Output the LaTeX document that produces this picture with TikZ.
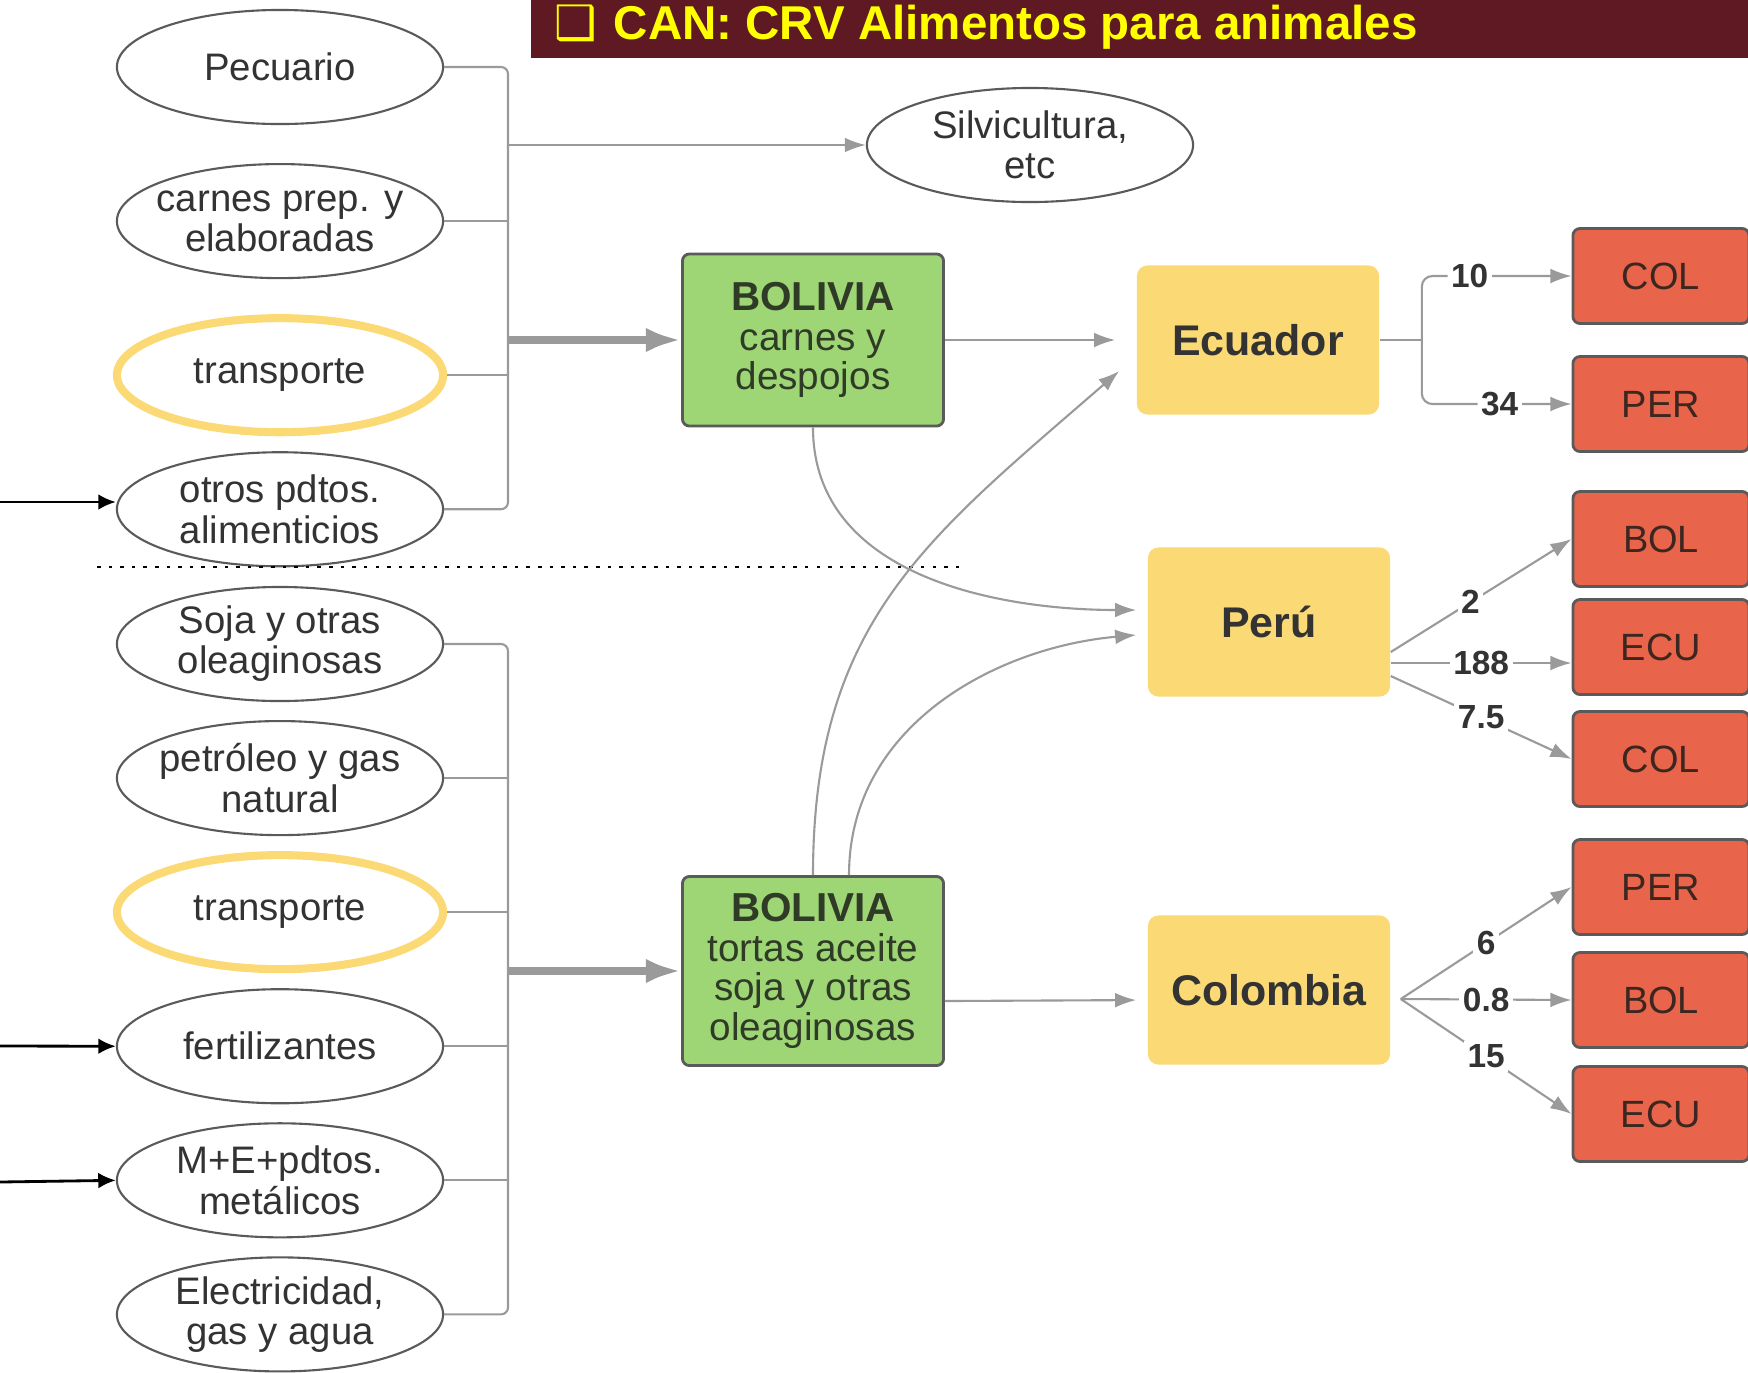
\documentclass[tikz,border=0pt]{standalone}
\usepackage{fontspec}
\setmainfont{Liberation Sans}
\newfontfamily\symbfont{DejaVu Sans}
\usetikzlibrary{arrows.meta,shapes.geometric}

\definecolor{txtgray}{HTML}{333333}
\definecolor{linegray}{HTML}{9A9A9A}
\definecolor{rimgray}{HTML}{5A5A5A}
\definecolor{leafgreen}{HTML}{9ED676}
\definecolor{leafdark}{HTML}{2F3B26}
\definecolor{sandyellow}{HTML}{FBD975}
\definecolor{brickred}{HTML}{E8644A}
\definecolor{brickdark}{HTML}{3B2620}
\definecolor{wine}{HTML}{5F1922}
\definecolor{titleyellow}{HTML}{FFFF00}

\tikzset{>={Latex[length=6pt,width=4.2pt]},node distance=1.34cm,
  sector/.style={ellipse,draw=rimgray,line width=0.6pt,minimum width=3.26cm,minimum height=1.14cm,
    inner xsep=-0.4cm,inner ysep=0pt,align=center,text=txtgray,font=\fontsize{10.9}{11.4}\selectfont},
  hilite/.style={sector,draw=sandyellow,line width=2.3pt},
  bolbox/.style={rectangle,rounded corners=2pt,draw=rimgray,line width=0.8pt,fill=leafgreen,
    minimum width=2.61cm,align=center,text=leafdark,font=\fontsize{11}{11.3}\selectfont},
  country/.style={rectangle,rounded corners=3pt,fill=sandyellow,minimum width=2.42cm,
    minimum height=1.49cm,text=txtgray,font=\bfseries\fontsize{12.2}{14}\selectfont},
  dest/.style={rectangle,rounded corners=2pt,draw=rimgray,line width=0.8pt,fill=brickred,
    minimum width=1.76cm,minimum height=0.95cm,text=brickdark,font=\fontsize{10.8}{12}\selectfont},
  flow/.style={->,color=linegray,line width=0.6pt},
  feed/.style={-{Latex[length=10pt,width=7pt]},color=linegray,line width=2.3pt},
  feedin/.style={-{Latex[length=5pt,width=4.5pt]},color=black,line width=0.8pt},
  bus/.style={draw=linegray,line width=0.6pt,rounded corners=2pt},
  lbl/.style={fill=white,inner sep=1pt,text=txtgray,font=\bfseries\fontsize{9.5}{11}\selectfont}}

\begin{document}
\begin{tikzpicture}[x=0.01cm,y=0.01cm]
              \useasboundingbox (0,0) rectangle (1748,-1372);

              % title
              \fill[wine] (531,0) rectangle (1748,-58);
              \node[anchor=base west,inner sep=0pt,text=titleyellow,font=\bfseries\fontsize{13.5}{16}\selectfont]
                (title) at (554,-39) {{\symbfont ❑}\hspace{0.35em}CAN: CRV Alimentos para animales};

              % sectors
              \node[sector] (pec) at (280,-67) {Pecuario};
              \node[sector] (carn) [node distance=1.54cm,below of=pec] {carnes prep. y\\elaboradas};
              \node[hilite] (trA) [node distance=1.54cm,below of=carn] {transporte};
              \node[sector] (otros) [below of=trA] {otros pdtos.\\alimenticios};

              \node[sector] (soja) at (280,-644) {Soja y otras\\oleaginosas};
              \node[sector] (petro) [below of=soja] {petróleo y gas\\natural};
              \node[hilite] (trB) [below of=petro] {transporte};
              \node[sector] (fert) [below of=trB] {fertilizantes};
              \node[sector] (mep) [below of=fert] {M+E+pdtos.\\metálicos};
              \node[sector] (elec) [below of=mep] {Electricidad,\\gas y agua};

              \node[sector] (silv) at (1030,-145) {Silvicultura,\\etc};

              % bolivia
              \node[bolbox,minimum height=1.72cm] (bolA) at (813,-340)
                {{\bfseries\fontsize{11.5}{11.6}\selectfont BOLIVIA}\\carnes y\\despojos};
              \node[bolbox,minimum height=1.89cm] (bolB) at (813,-971)
                {{\bfseries\fontsize{11.5}{11.6}\selectfont BOLIVIA}\\tortas aceite\\soja y otras\\oleaginosas};

              % importers
              \node[country] (ecu) at (1258,-340) {Ecuador};
              \node[country] (per) at (1269,-622) {Perú};
              \node[country] (col) at (1269,-990) {Colombia};

              \node[dest] (colE) at (1661,-276) {COL};
              \node[dest] (perE) at (1661,-404) {PER};
              \node[dest] (bolP) at (1661,-539) {BOL};
              \node[dest] (ecuP) at (1661,-647) {ECU};
              \node[dest] (colP) at (1661,-759) {COL};
              \node[dest] (perC) at (1661,-887) {PER};
              \node[dest] (bolC) at (1661,-1000) {BOL};
              \node[dest] (ecuC) at (1661,-1114) {ECU};

              \coordinate (bus) at (508,0);
              \coordinate (inA) at (0,-502);
              \coordinate (inB) at (0,-1046);
              \coordinate (inC) at (0,-1182);
              \coordinate (sepL) at (97,-567);
              \coordinate (sepR) at (965,-567);

              % input brackets
              \draw[bus] (pec.east) -- (pec.east -| bus) |- (otros.east);
              \draw[bus] (carn.east) -- (carn.east -| bus);
              \draw[bus] (trA.east) -- (trA.east -| bus);
              \draw[bus] (soja.east) -- (soja.east -| bus) |- (elec.east);
              \draw[bus] (petro.east) -- (petro.east -| bus);
              \draw[bus] (trB.east) -- (trB.east -| bus);
              \draw[bus] (fert.east) -- (fert.east -| bus);
              \draw[bus] (mep.east) -- (mep.east -| bus);

              \draw[feed] (bolA.west -| bus) -- (bolA.west);
              \draw[feed] (bolB.west -| bus) -- (bolB.west);
              \draw[flow] (silv.west -| bus) -- (silv.west);

              \draw[feedin] (inA) -- (inA -| otros.west);
              \draw[feedin] (inB) -- (fert.west);
              \draw[feedin] (inC) -- (mep.west);

              \draw[line width=0.8pt,dash pattern=on 1pt off 2.3pt] (sepL) -- (sepR);

              % exports of bolivia
              \path[flow]
              (bolA) edge [shorten >=0.21cm] (ecu.west)
              (bolA.south) edge [out=-90,in=180,shorten >=0.11cm] ([yshift=0.12cm]per.west)
              (bolB.north) edge [out=90,in=-139,looseness=1.1] ([xshift=-0.17cm,yshift=-0.31cm]ecu.west)
              ([xshift=0.36cm]bolB.north) edge [out=90,in=185,shorten >=0.11cm] ([yshift=-0.12cm]per.west)
              ([yshift=-0.3cm]bolB.east) edge [shorten >=0.11cm] ([yshift=-0.1cm]col.west)
              ;

              % re-exports
              \coordinate (eJ) at ([xshift=0.42cm]ecu.east);
              \draw[flow,-] (ecu.east) -- (eJ);
              \draw[flow,rounded corners=3pt] (eJ) |- node[lbl,pos=0.66] {10} (colE.west);
              \draw[flow,rounded corners=3pt] (eJ) |- node[lbl,pos=0.76] {34} (perE.west);

              \coordinate (pA) at ([yshift=-0.30cm]per.east);
              \coordinate (pB) at ([yshift=-0.41cm]per.east);
              \coordinate (pC) at ([yshift=-0.54cm]per.east);
              \path[flow]
              (pA) edge node[lbl,pos=0.44] {2} (bolP.west)
              (pB) edge node[lbl] {188} (pB -| ecuP.west)
              (pC) edge node[lbl] {7.5} (colP.west)
              ;

              \coordinate (cE) at ([xshift=0.1cm,yshift=-0.09cm]col.east);
              \path[flow]
              (cE) edge node[lbl] {6} (perC.west)
                   edge node[lbl] {0.8} (bolC.west)
                   edge node[lbl] {15} (ecuC.west)
              ;
\end{tikzpicture}
\end{document}
